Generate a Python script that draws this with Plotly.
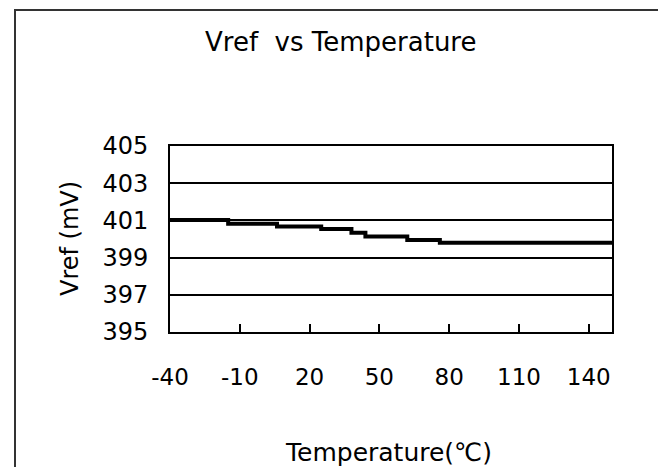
import plotly.graph_objects as go

# Data
temperature_c = [-40, -15, 6, 25, 38, 44, 62, 76, 150]
vref_mv = [401.02, 400.82, 400.67, 400.54, 400.33, 400.13, 399.95, 399.80, 399.80]

x_tick_values = [-40, -10, 20, 50, 80, 110, 140]
y_tick_values = [395, 397, 399, 401, 403, 405]

OFF = 8  # page body margin
W, H = 666 - 2 * OFF, 475 - 2 * OFF
L, R, T, B = 170 - OFF, 612 - OFF, 146 - OFF, 332 - OFF  # plot area in figure pixels


def px_x(px):
    return (px - OFF - L) / (R - L)


def px_y(py):
    return (B - (py - OFF)) / (B - T)


FONT = "DejaVu Sans"

fig = go.Figure()
fig.add_trace(go.Scatter(
    x=temperature_c, y=vref_mv, mode="lines",
    line=dict(color="black", width=4, shape="hv"),
    showlegend=False, hoverinfo="skip",
))

fig.update_layout(
    width=W, height=H,
    margin=dict(l=L, r=W - R, t=T, b=H - B, pad=0),
    paper_bgcolor="white", plot_bgcolor="white",
    font=dict(family=FONT, size=23, color="black"),
    showlegend=False,
)

fig.update_xaxes(
    range=[-40, 150], tickvals=x_tick_values,
    ticktext=[str(v) for v in x_tick_values],
    ticks="inside", ticklen=8, tickwidth=2, tickcolor="black",
    showgrid=False, zeroline=False,
    showline=True, linecolor="black", linewidth=2, mirror=True,
    tickfont=dict(family=FONT, size=23, color="black"),
    ticklabelstandoff=23,
)
fig.update_yaxes(
    range=[395, 405], tickvals=y_tick_values,
    ticktext=[str(v) for v in y_tick_values],
    ticks="", showgrid=True, gridcolor="black", gridwidth=2,
    zeroline=False,
    showline=True, linecolor="black", linewidth=2, mirror=True,
    tickfont=dict(family=FONT, size=24, color="black"),
    ticklabelstandoff=15,
)

# Outer frame
fig.add_shape(type="rect", xref="paper", yref="paper",
              x0=px_x(15), x1=px_x(663), y0=px_y(495), y1=px_y(10),
              line=dict(color="#333333", width=2), fillcolor="rgba(0,0,0,0)",
              layer="below")

# Title
fig.add_annotation(text="Vref  vs Temperature", xref="paper", yref="paper",
                   x=px_x(340), y=px_y(42), showarrow=False,
                   xanchor="center", yanchor="middle",
                   font=dict(family=FONT, size=26, color="black"))
# Axis titles
fig.add_annotation(text="Temperature(℃)", xref="paper", yref="paper",
                   x=px_x(388), y=px_y(452), showarrow=False,
                   xanchor="center", yanchor="middle",
                   font=dict(family=FONT, size=25, color="black"))
fig.add_annotation(text="Vref (mV)", xref="paper", yref="paper",
                   x=px_x(70), y=px_y(239), showarrow=False, textangle=-90,
                   xanchor="center", yanchor="middle",
                   font=dict(family=FONT, size=24, color="black"))

fig.write_html("out.html")
